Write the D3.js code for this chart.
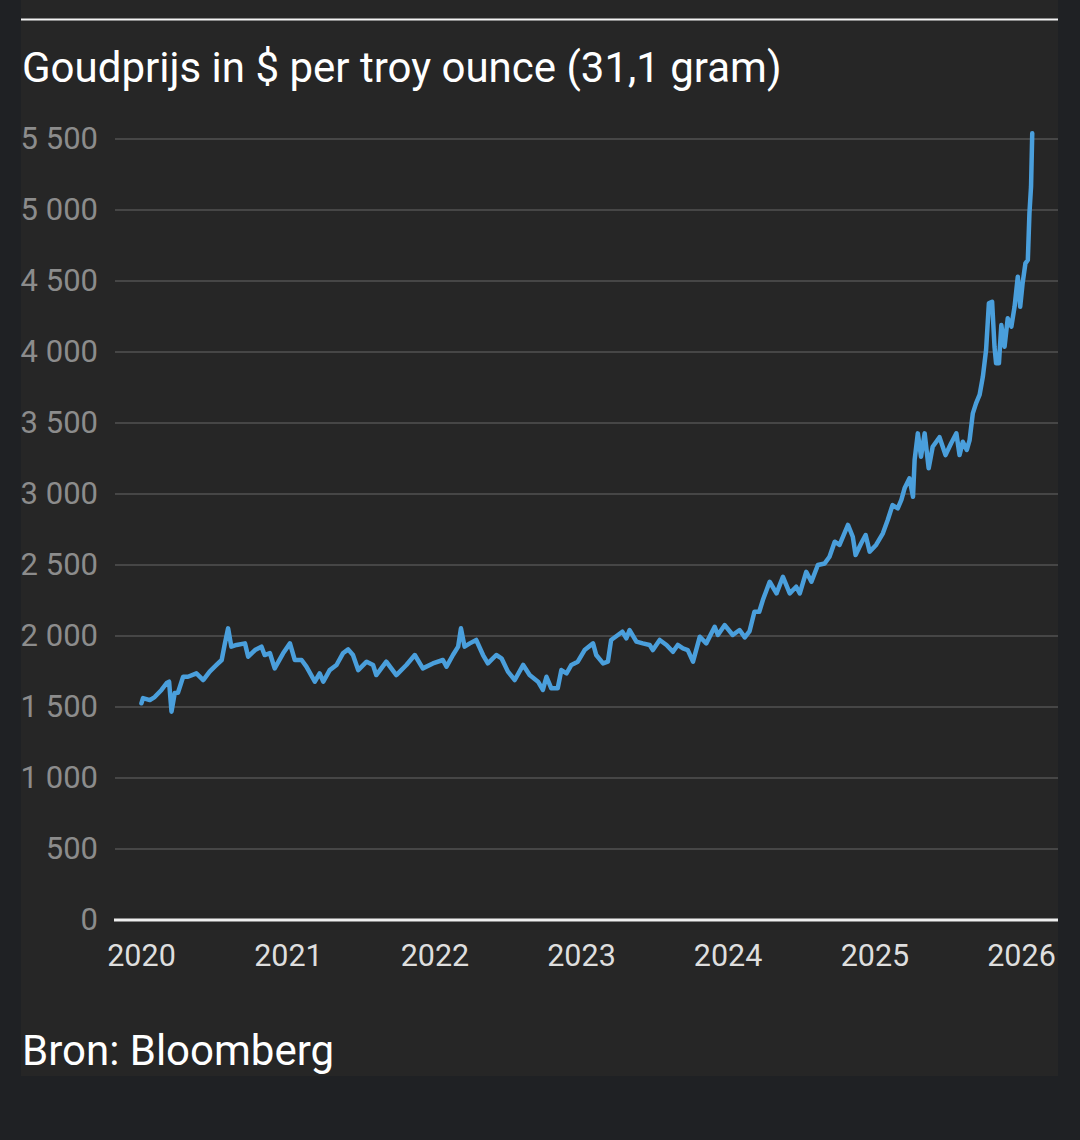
<!DOCTYPE html>
<html>
<head>
<meta charset="utf-8">
<script src="https://cdn.jsdelivr.net/npm/d3@7"></script>
<style>
  html, body { margin: 0; padding: 0; background: #1f2124; }
  #chart { width: 1080px; height: 1140px; }
  text { font-family: Roboto, "Noto Sans", sans-serif; }
</style>
</head>
<body>
<div id="chart"></div>
<script>
// Goudprijs (datum, $ per troy ounce)
const dates = [
  "2020-01-02","2020-01-06","2020-01-23","2020-02-04","2020-02-21","2020-03-05","2020-03-11","2020-03-17",
  "2020-03-25","2020-04-02","2020-04-15","2020-04-27","2020-05-18","2020-06-04","2020-06-20","2020-07-07",
  "2020-07-20","2020-07-28","2020-08-05","2020-08-13","2020-08-26","2020-09-16","2020-09-24","2020-10-11",
  "2020-10-27","2020-11-04","2020-11-17","2020-11-29","2020-12-20","2021-01-06","2021-01-18","2021-02-04",
  "2021-02-16","2021-03-09","2021-03-21","2021-03-30","2021-04-15","2021-05-02","2021-05-18","2021-05-31",
  "2021-06-12","2021-06-25","2021-07-16","2021-08-01","2021-08-09","2021-09-03","2021-09-28","2021-10-23",
  "2021-11-13","2021-12-03","2021-12-28","2022-01-22","2022-01-31","2022-02-16","2022-03-01","2022-03-08",
  "2022-03-17","2022-03-30","2022-04-15","2022-05-02","2022-05-14","2022-06-04","2022-06-17","2022-07-03",
  "2022-07-20","2022-08-10","2022-08-26","2022-09-16","2022-09-28","2022-10-07","2022-10-19","2022-11-04",
  "2022-11-13","2022-11-26","2022-12-08","2022-12-24","2023-01-10","2023-01-31","2023-02-08","2023-02-25",
  "2023-03-09","2023-03-17","2023-04-03","2023-04-14","2023-04-24","2023-05-02","2023-05-19","2023-06-04",
  "2023-06-21","2023-06-29","2023-07-16","2023-08-02","2023-08-18","2023-08-30","2023-09-12","2023-09-24",
  "2023-10-07","2023-10-24","2023-11-09","2023-11-30","2023-12-08","2023-12-25","2024-01-14","2024-01-31",
  "2024-02-13","2024-02-25","2024-03-08","2024-03-20","2024-03-29","2024-04-15","2024-05-02","2024-05-18",
  "2024-06-04","2024-06-20","2024-06-29","2024-07-15","2024-07-28","2024-08-13","2024-08-30","2024-09-11",
  "2024-09-24","2024-10-06","2024-10-27","2024-11-08","2024-11-15","2024-11-29","2024-12-10","2024-12-20",
  "2025-01-05","2025-01-22","2025-02-03","2025-02-15","2025-02-28","2025-03-09","2025-03-17","2025-03-29",
  "2025-04-07","2025-04-11","2025-04-19","2025-04-27","2025-05-06","2025-05-16","2025-05-26","2025-06-12",
  "2025-06-27","2025-07-11","2025-07-24","2025-08-01","2025-08-09","2025-08-19","2025-08-26","2025-09-03",
  "2025-09-11","2025-09-20","2025-09-28","2025-10-06","2025-10-13","2025-10-21","2025-10-27","2025-10-31",
  "2025-11-07","2025-11-13","2025-11-21","2025-11-29","2025-12-08","2025-12-16","2025-12-24","2025-12-30",
  "2026-01-05","2026-01-12","2026-01-18","2026-01-22","2026-01-26","2026-01-29"
];
const prices = [
  1526,1563,1549,1570,1620,1669,1678,1467,
  1598,1600,1713,1713,1737,1690,1749,1796,
  1831,1948,2054,1925,1937,1948,1854,1901,
  1925,1866,1880,1772,1878,1948,1831,1831,
  1784,1678,1737,1678,1760,1796,1878,1906,
  1866,1760,1819,1796,1725,1819,1725,1796,
  1866,1772,1807,1831,1784,1866,1925,2054,
  1925,1948,1972,1866,1807,1866,1843,1749,
  1690,1796,1725,1678,1620,1713,1632,1632,
  1760,1737,1796,1819,1901,1948,1866,1807,
  1819,1972,2007,2030,1984,2042,1960,1948,
  1937,1901,1972,1937,1889,1937,1913,1901,
  1819,1995,1948,2065,2007,2077,2007,2042,
  1990,2035,2171,2171,2253,2382,2300,2417,
  2300,2347,2300,2452,2382,2500,2511,2558,
  2664,2641,2782,2699,2570,2653,2711,2594,
  2641,2723,2817,2922,2899,2958,3040,3110,
  2981,3239,3427,3263,3427,3181,3333,3400,
  3274,3357,3427,3274,3368,3310,3380,3568,
  3638,3700,3826,4014,4343,4354,4037,3920,
  3920,4190,4037,4237,4178,4319,4530,4319,
  4484,4624,4648,4976,5164,5540
];
const yearTicks = [2020, 2021, 2022, 2023, 2024, 2025, 2026];
const priceTicks = [0, 500, 1000, 1500, 2000, 2500, 3000, 3500, 4000, 4500, 5000, 5500];

const title = "Goudprijs in $ per troy ounce (31,1 gram)";
const source = "Bron: Bloomberg";

const W = 1080, H = 1140;
const panel = { left: 21, right: 1058, top: 0, bottom: 1076 };
const plot = { left: 115, right: 1058, top: 139, bottom: 920 };

const parse = d3.timeParse("%Y-%m-%d");
const data = dates.map((d, i) => ({ date: parse(d), value: prices[i] }));

const svg = d3.select("#chart")
    .append("svg")
    .attr("width", W)
    .attr("height", H);

svg.append("rect")
    .attr("width", W).attr("height", H)
    .attr("fill", "#1f2124");

svg.append("rect")
    .attr("x", panel.left).attr("y", panel.top)
    .attr("width", panel.right - panel.left)
    .attr("height", panel.bottom - panel.top)
    .attr("fill", "#262626");

svg.append("line")
    .attr("x1", panel.left).attr("x2", panel.right)
    .attr("y1", 19.5).attr("y2", 19.5)
    .attr("stroke", "#f2f2f2")
    .attr("stroke-width", 2);

svg.append("text")
    .attr("x", 22).attr("y", 82)
    .attr("fill", "#ffffff")
    .attr("font-size", "42px")
    .text(title);

const x = d3.scaleTime()
    .domain([new Date(2020, 0, 1), new Date(2026, 0, 1)])
    .range([141, 1021]);

const y = d3.scaleLinear()
    .domain([0, 5500])
    .range([plot.bottom, plot.top]);

const nl = d3.formatLocale({ decimal: ",", thousands: " ", grouping: [3], currency: ["$", ""] });
const fmt = nl.format(",");

// rasterlijnen
svg.append("g")
    .selectAll("line")
    .data(priceTicks.filter(d => d > 0))
    .join("line")
    .attr("x1", plot.left).attr("x2", plot.right)
    .attr("y1", d => y(d)).attr("y2", d => y(d))
    .attr("stroke", "#464646")
    .attr("stroke-width", 2);

const yAxis = svg.append("g")
    .attr("transform", `translate(${plot.left},0)`)
    .call(d3.axisLeft(y).tickValues(priceTicks).tickFormat(fmt).tickSize(0).tickPadding(17));
yAxis.select(".domain").remove();
yAxis.selectAll("text")
    .attr("fill", "#8c8c8c")
    .style("font-size", "31px")
    .style("font-family", "Roboto, sans-serif");

const xAxis = svg.append("g")
    .attr("transform", `translate(0,${plot.bottom})`)
    .call(d3.axisBottom(x)
        .tickValues(yearTicks.map(yr => new Date(yr, 0, 1)))
        .tickFormat(d3.timeFormat("%Y"))
        .tickSize(0)
        .tickPadding(24));
xAxis.select(".domain").remove();
xAxis.selectAll("text")
    .attr("fill", "#dedede")
    .style("font-size", "30.5px")
    .style("font-family", "Roboto, sans-serif");

svg.append("line")
    .attr("x1", plot.left - 1).attr("x2", plot.right)
    .attr("y1", plot.bottom).attr("y2", plot.bottom)
    .attr("stroke", "#eeeeee")
    .attr("stroke-width", 3);

const line = d3.line()
    .x(d => x(d.date))
    .y(d => y(d.value));

svg.append("path")
    .datum(data)
    .attr("d", line)
    .attr("fill", "none")
    .attr("stroke", "#4a9fdc")
    .attr("stroke-width", 4.5)
    .attr("stroke-linejoin", "round")
    .attr("stroke-linecap", "round");

svg.append("text")
    .attr("x", 22).attr("y", 1065)
    .attr("fill", "#ffffff")
    .attr("font-size", "42px")
    .text(source);
</script>
</body>
</html>
